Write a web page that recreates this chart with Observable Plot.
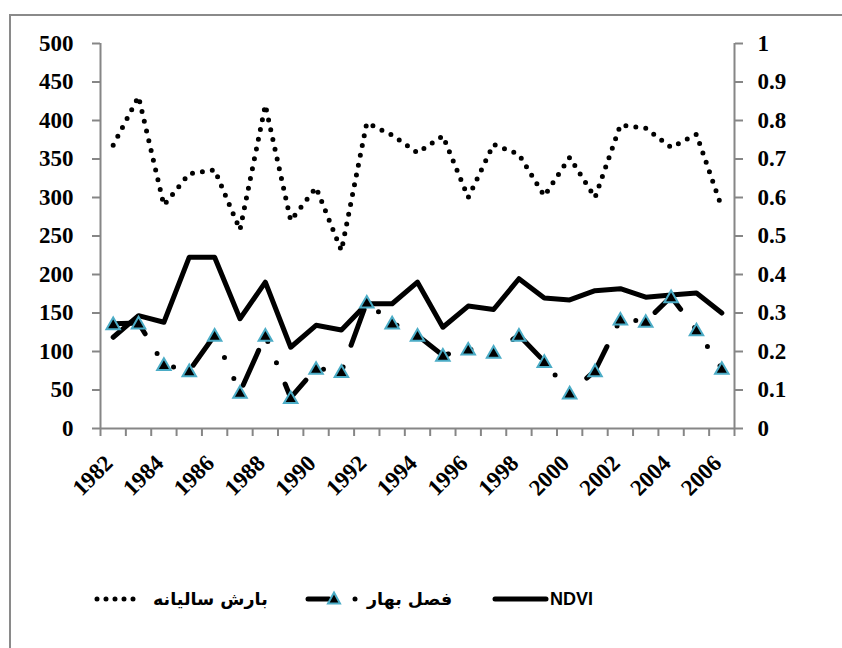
<!DOCTYPE html>
<html><head><meta charset="utf-8">
<script src="https://cdn.jsdelivr.net/npm/d3@7"></script>
<script src="https://cdn.jsdelivr.net/npm/@observablehq/plot@0.6"></script>
<style>
html,body{margin:0;padding:0;background:#fff;}
#wrap{position:relative;width:842px;height:648px;overflow:hidden;}
#border{position:absolute;left:9px;top:14px;width:900px;height:700px;border:2px solid #8a8a8a;box-sizing:border-box;}
#chart{position:absolute;left:0;top:0;}
#legend{position:absolute;left:0;top:560px;width:842px;height:88px;}
.sample{position:absolute;top:29px;}
.lbl{position:absolute;top:27px;height:24px;line-height:24px;font-weight:bold;color:#000;white-space:nowrap;}
.fa{font-family:"DejaVu Sans",sans-serif;font-size:17.5px;direction:rtl;}
.en{font-family:"Liberation Sans",Arial,sans-serif;font-size:18px;}
</style></head><body>
<div id="wrap"><div id="border"></div><div id="chart"></div><div id="legend"></div></div>
<script>
// ---- data ----
const years = [1982,1983,1984,1985,1986,1987,1988,1989,1990,1991,1992,1993,1994,1995,1996,1997,1998,1999,2000,2001,2002,2003,2004,2005,2006];
const precip = [368,431,290,331,336,258,420,270,313,231,397,381,358,380,300,369,356,302,352,300,394,390,365,382,287];
const spring = [136,137,83,75,121,47,121,40,78,74,164,137,121,95,103,99,121,87,46,75,142,139,171,128,78];
const ndvi = [0.237,0.293,0.276,0.445,0.445,0.285,0.380,0.211,0.268,0.256,0.324,0.324,0.380,0.263,0.318,0.309,0.389,0.339,0.334,0.358,0.363,0.341,0.347,0.352,0.300];
const leftTicks = [0,50,100,150,200,250,300,350,400,450,500];
const rightTicks = [0,0.1,0.2,0.3,0.4,0.5,0.6,0.7,0.8,0.9,1];
const xLabelYears = [1982,1984,1986,1988,1990,1992,1994,1996,1998,2000,2002,2004,2006];
const seriesNames = ["بارش سالیانه", "فصل بهار", "NDVI"];

const RATIO = 500; // left max / right max
const rows = years.map((y, i) => ({year: y, precip: precip[i], spring: spring[i], ndvi: ndvi[i]}));
const x0 = years[0] - 0.5, x1 = years[years.length - 1] + 0.5;
const bounds = d3.range(x0, x1 + 0.01, 1);

const axisGray = "#868686";
const serif = "'Liberation Serif', 'Times New Roman', serif";
const FS = 23;

const chart = Plot.plot({
  width: 842, height: 560,
  marginTop: 43, marginBottom: 132, marginLeft: 100, marginRight: 108,
  x: {type: "linear", domain: [x0, x1]},
  y: {domain: [0, 500]},
  style: {background: "transparent", overflow: "visible", fontFamily: serif, fontWeight: "bold", fontSize: FS + "px"},
  marks: [
    Plot.axisX({ticks: bounds, tickSize: 8, stroke: axisGray, strokeWidth: 2, fill: "none", label: null}),
    Plot.axisY({ticks: leftTicks, anchor: "left", tickSize: 8, tickPadding: 19, stroke: axisGray, strokeWidth: 2,
      fill: "black", fontFamily: serif, fontSize: FS, fontWeight: "bold", label: null}),
    Plot.axisY({ticks: rightTicks.map(v => v * RATIO), anchor: "right", tickSize: 8, tickPadding: 15, stroke: axisGray, strokeWidth: 2,
      tickFormat: v => String(+(v / RATIO).toFixed(1)),
      fill: "black", fontFamily: serif, fontSize: FS, fontWeight: "bold", label: null}),
    Plot.ruleX([x0, x1], {stroke: axisGray, strokeWidth: 2}),
    Plot.ruleY([0], {stroke: axisGray, strokeWidth: 2}),
    Plot.text(xLabelYears, {x: d => d, text: d => String(d), frameAnchor: "bottom", dy: 36, dx: 1, rotate: -45,
      textAnchor: "end", fontFamily: serif, fontSize: FS, fontWeight: "bold", fill: "black"}),
    Plot.line(rows, {x: "year", y: d => d.ndvi * RATIO, stroke: "black", strokeWidth: 5, strokeLinejoin: "round"}),
    Plot.line(rows, {x: "year", y: "precip", stroke: "black", strokeWidth: 5, strokeDasharray: "0 10", strokeLinecap: "round"}),
    Plot.line(rows, {x: "year", y: "spring", stroke: "black", strokeWidth: 5, strokeDasharray: "38 23 0 23 0 23", strokeLinecap: "round", strokeLinejoin: "round"}),
    Plot.dot(rows, {x: "year", y: "spring", symbol: "triangle", r: 5, fill: "black", stroke: "#4bacc6", strokeWidth: 2, dy: 1.5})
  ]
});
document.getElementById("chart").appendChild(chart);

// ---- legend ----
const legend = document.getElementById("legend");
legend.innerHTML = `
  <svg class="sample" style="left:94px" width="54" height="20"><line x1="3" y1="10" x2="48" y2="10" stroke="black" stroke-width="5" stroke-linecap="round" stroke-dasharray="0 9"/></svg>
  <div class="lbl fa" style="left:153px">${seriesNames[0]}</div>
  <svg class="sample" style="left:300px" width="62" height="20">
    <line x1="8" y1="10" x2="29" y2="10" stroke="black" stroke-width="5" stroke-linecap="round"/>
    <path d="M34,3.5 L40,14.5 L28,14.5 Z" fill="black" stroke="#4bacc6" stroke-width="2"/>
    <circle cx="55" cy="10" r="2.5" fill="black"/>
  </svg>
  <div class="lbl fa" style="left:367px">${seriesNames[1]}</div>
  <svg class="sample" style="left:490px" width="60" height="20"><line x1="5" y1="10" x2="56" y2="10" stroke="black" stroke-width="5" stroke-linecap="round"/></svg>
  <div class="lbl en" style="left:550px">${seriesNames[2]}</div>
`;
</script>
</body></html>
